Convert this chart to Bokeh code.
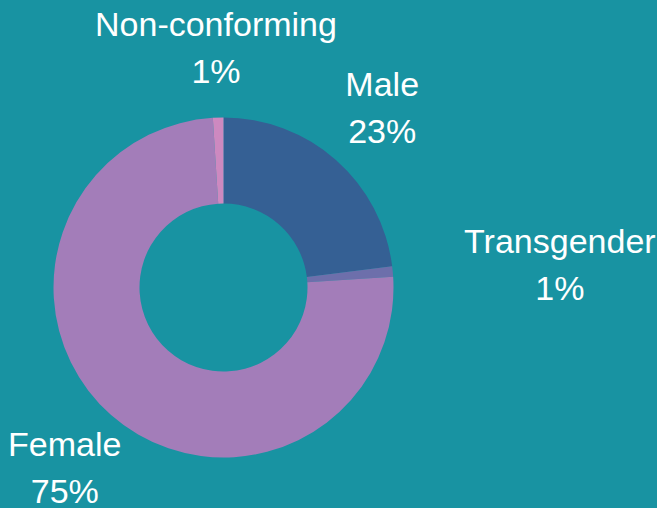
import numpy as np
from bokeh.plotting import figure
from bokeh.models import Range1d, ColumnDataSource
from bokeh.core.properties import value
from bokeh.embed import file_html
from bokeh.resources import INLINE

# ---- data ----
categories = ["Male", "Transgender", "Female", "Non-conforming"]
shares = [23, 1, 75, 1]
pct_labels = ["23%", "1%", "75%", "1%"]
colors = ["#356094", "#6d6fab", "#a37db9", "#cd89c0"]

BG = "#1893a2"
W, H = 657, 508
CX, CY = 223, 287          # donut centre, px from top-left
inner_r, outer_r = 84, 170
label_r = 240
line_gap = 47
font = value("Liberation Sans")
FS = 34
fsize = "%dpx" % FS

# approximate advance widths (Arial / Liberation Sans metrics, per 1000 em)
_adv = {"T": 611, "r": 333, "a": 556, "n": 556, "s": 500, "g": 556, "e": 556,
        "d": 556, "M": 833, "l": 222, "F": 611, "m": 833, "N": 722, "o": 556,
        "-": 333, "c": 500, "f": 278, "i": 222, "%": 889}


def text_w(t):
    return sum(_adv.get(ch, 556) for ch in t) * FS / 1000.0


frac = np.array(shares, dtype=float) / sum(shares)
cum = np.concatenate([[0], np.cumsum(frac)])
start = np.pi / 2 - cum[:-1] * 2 * np.pi
end = np.pi / 2 - cum[1:] * 2 * np.pi
mid = (start + end) / 2

src = ColumnDataSource(dict(start=start, end=end, color=colors, cat=categories))

p = figure(width=W, height=H, output_backend="svg", toolbar_location=None,
           x_range=Range1d(-CX, W - CX), y_range=Range1d(-(H - CY), CY),
           min_border=0, background_fill_color=BG, border_fill_color=BG,
           outline_line_color=None)
p.axis.visible = False
p.grid.visible = False

p.annular_wedge(x=0, y=0, inner_radius=inner_r, outer_radius=outer_r,
                start_angle="start", end_angle="end", direction="clock",
                color="color", line_color=None, source=src)

# label placement: centred on the slice's mid angle; near-horizontal labels
# pushed outward so the block's inner edge sits on the label circle
lx, ly = [], []
for m, name, pct in zip(mid, categories, pct_labels):
    c, s = np.cos(m), np.sin(m)
    if abs(c) > 0.95:
        half = max(text_w(name), text_w(pct)) / 2
        lx.append(np.sign(c) * (label_r + half))
    else:
        lx.append(label_r * c)
    ly.append(label_r * s)
lx = np.array(lx); ly = np.array(ly)

lab = ColumnDataSource(dict(x=lx, y1=ly + line_gap / 2, y2=ly - line_gap / 2,
                            name=categories, pct=pct_labels))
for ycol, tcol in (("y1", "name"), ("y2", "pct")):
    p.text(x="x", y=ycol, text=tcol, source=lab, text_color="white",
           text_font=font, text_font_size=fsize, text_align="center",
           text_baseline="middle")

html = file_html(p, INLINE)
html = html.replace("<head>", "<head><style>html,body{background:%s;}</style>" % BG, 1)
open("out.html", "w").write(html)
